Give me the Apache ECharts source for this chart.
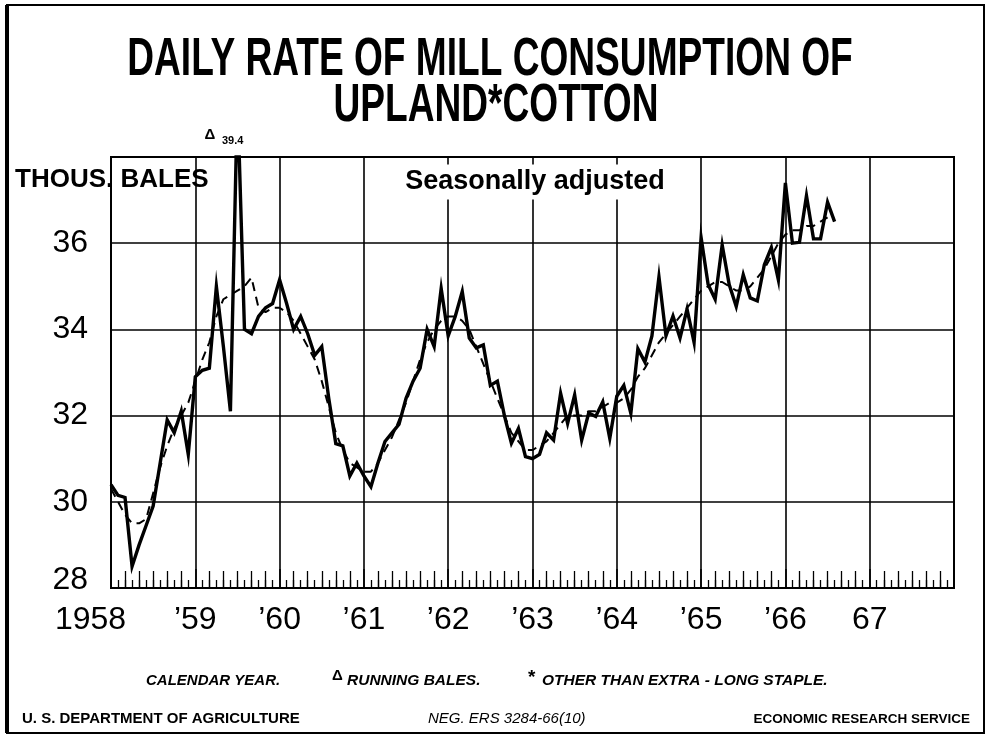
<!DOCTYPE html>
<html>
<head>
<meta charset="utf-8">
<script src="https://cdn.jsdelivr.net/npm/echarts@6/dist/echarts.min.js"></script>
<style>
  html, body { margin: 0; padding: 0; background: #fff; }
  #myChart { width: 987px; height: 736px; }
</style>
</head>
<body>
<div id="myChart"></div>
<script>
// year labels for the x axis (one per January, months counted from Jan 1958)
const yearLabels = ['1958', '\u201959', '\u201960', '\u201961', '\u201962', '\u201963', '\u201964', '\u201965', '\u201966', '67', ''];
const yTicks = [28, 30, 32, 34, 36, 38];

// daily rate, thous. bales, monthly Jan 1958 - Aug 1966 (solid line)
const monthly = [
  30.4, 30.15, 30.1, 28.5, 29.0, 29.45, 29.9, 30.9, 31.9, 31.6, 32.1, 31.1,
  32.9, 33.05, 33.1, 35.0, 33.6, 32.1, 39.4, 34.0, 33.9, 34.3, 34.5, 34.6,
  35.15, 34.6, 34.0, 34.3, 33.9, 33.4, 33.6, 32.4, 31.35, 31.3, 30.6, 30.9,
  30.6, 30.35, 30.9, 31.4, 31.6, 31.8, 32.4, 32.8, 33.1, 34.0, 33.6, 34.95,
  33.85, 34.3, 34.88, 33.8, 33.57, 33.64, 32.7, 32.8, 32.0, 31.36, 31.7, 31.05,
  31.0, 31.1, 31.6, 31.43, 32.52, 31.82, 32.48, 31.43, 32.06, 31.98, 32.32, 31.47,
  32.45, 32.7, 32.05, 33.55, 33.24, 33.85, 35.22, 33.85, 34.31, 33.8, 34.47, 33.7,
  36.13, 35.04, 34.7, 35.96, 35.04, 34.53, 35.27, 34.73, 34.66, 35.5, 35.9, 35.15,
  37.4, 36.0, 36.02, 37.1, 36.1, 36.1, 36.95, 36.5
];

// smoothed trend (dashed line)
const smoothed = [
  30.3, 30.0, 29.7, 29.5, 29.5, 29.6, 30.2, 30.8, 31.3, 31.7, 32.0, 32.3,
  32.8, 33.3, 33.7, 34.3, 34.7, 34.8, 34.9, 35.0, 35.2, 34.5, 34.4, 34.5,
  34.5, 34.4, 34.2, 33.9, 33.6, 33.3, 32.8, 32.2, 31.6, 31.2, 30.9, 30.8,
  30.7, 30.7, 30.9, 31.2, 31.5, 31.9, 32.3, 32.8, 33.3, 33.7, 34.0, 34.2,
  34.3, 34.3, 34.2, 34.0, 33.6, 33.2, 32.8, 32.4, 32.0, 31.6, 31.4, 31.2,
  31.2, 31.3, 31.4, 31.6, 31.8, 32.0, 32.0, 32.0, 32.1, 32.1, 32.2, 32.3,
  32.3, 32.4, 32.6, 32.9, 33.1, 33.4, 33.7, 33.9, 34.1, 34.3, 34.5, 34.7,
  34.9, 35.0, 35.1, 35.1, 35.0, 34.9, 34.9, 35.0, 35.2, 35.4, 35.7, 36.0,
  36.2, 36.3, 36.3, 36.4, 36.4, 36.5, 36.6
];

const FONT = 'Liberation Sans';

let myChart = echarts.init(document.getElementById('myChart'));

// helper for text elements of the graphic layer
function txt(x, y, text, font, align, extra) {
  return {
    type: 'text', z: 100, x: x, y: y,
    style: Object.assign({
      text: text, fill: '#000', font: font,
      align: align, verticalAlign: 'middle',
      textAlign: align, textVerticalAlign: 'middle'
    }, extra || {})
  };
}

let option = {
  backgroundColor: '#fff',
  animation: false,
  grid: [
    { left: 111, right: 33, top: 157, bottom: 148, show: true, borderColor: '#000', borderWidth: 2 },
    // thin strip on the baseline, only used for the month ticks that point up
    { left: 111, right: 33, top: 588, height: 1 }
  ],
  xAxis: [
    {
      type: 'value', min: 0, max: 120, interval: 12,
      axisLine: { show: true, lineStyle: { color: '#000', width: 2 } },
      axisTick: { show: false },
      splitLine: { show: true, lineStyle: { color: '#000', width: 1.6 } },
      axisLabel: {
        margin: 16,
        color: '#000',
        fontFamily: FONT,
        fontSize: 32,
        showMinLabel: true,
        formatter: function (v) {
          let k = Math.round(v / 12);
          if (k === 0) return '{y|' + yearLabels[0] + '}{s|}';
          return yearLabels[k];
        },
        rich: {
          y: { fontFamily: FONT, fontSize: 32, color: '#000' },
          s: { width: 41 }
        }
      }
    },
    {
      // short ticks every month
      gridIndex: 1, type: 'value', min: 0, max: 120, interval: 12, position: 'top',
      axisLine: { show: false },
      axisTick: { show: true, length: 20, lineStyle: { color: '#000', width: 1.5 } },
      minorTick: { show: true, splitNumber: 12, length: 9, lineStyle: { color: '#000', width: 1.3 } },
      splitLine: { show: false },
      axisLabel: { show: false }
    },
    {
      // longer ticks every second month
      gridIndex: 1, type: 'value', min: 0, max: 120, interval: 12, position: 'top',
      axisLine: { show: false },
      axisTick: { show: false },
      minorTick: { show: true, splitNumber: 6, length: 17, lineStyle: { color: '#000', width: 1.3 } },
      splitLine: { show: false },
      axisLabel: { show: false }
    }
  ],
  yAxis: [
    {
      type: 'value', min: yTicks[0], max: yTicks[yTicks.length - 1], interval: 2,
      axisLine: { show: true, lineStyle: { color: '#000', width: 2 } },
      axisTick: { show: false },
      splitLine: { show: true, lineStyle: { color: '#000', width: 1.6 } },
      axisLabel: {
        margin: 23,
        color: '#000',
        fontFamily: FONT,
        fontSize: 32,
        formatter: function (v) {
          if (v === 38) return '';
          if (v === 28) return '{m|28}';
          return String(v);
        },
        rich: {
          m: { fontFamily: FONT, fontSize: 32, color: '#000', padding: [0, 0, 16, 0] }
        }
      }
    },
    { gridIndex: 1, type: 'value', show: false, min: 0, max: 1 }
  ],
  series: [
    {
      name: 'smoothed',
      type: 'line',
      data: smoothed.map((v, i) => [i, v]),
      showSymbol: false,
      clip: true,
      lineStyle: { color: '#000', width: 2, type: [9, 6] },
      z: 3
    },
    {
      name: 'monthly',
      type: 'line',
      data: monthly.map((v, i) => [i, v]),
      showSymbol: false,
      clip: true,
      lineStyle: { color: '#000', width: 3.4, join: 'miter' },
      z: 4
    }
  ],
  graphic: [
    // page frame
    { type: 'rect', z: 1, shape: { x: 7, y: 5, width: 977, height: 728 },
      style: { fill: 'none', stroke: '#000', lineWidth: 2 } },
    { type: 'line', z: 1, shape: { x1: 7, y1: 5, x2: 7, y2: 733 },
      style: { stroke: '#000', lineWidth: 4 } },
    // title
    Object.assign(txt(490, 60, 'DAILY RATE OF MILL CONSUMPTION OF', 'bold 53px "Liberation Sans"', 'center'), { scaleX: 0.7 }),
    Object.assign(txt(496, 106, 'UPLAND*COTTON', 'bold 53px "Liberation Sans"', 'center'), { scaleX: 0.7 }),
    // spike note
    txt(210, 135, '\u0394', 'bold 15px "Liberation Sans"', 'center'),
    txt(222, 141, '39.4', 'bold 11px "Liberation Sans"', 'left'),
    // unit and note
    txt(15, 180, 'THOUS. BALES', 'bold 26px "Liberation Sans"', 'left'),
    txt(535, 182, 'Seasonally adjusted', 'bold 27px "Liberation Sans"', 'center',
      { backgroundColor: '#fff', padding: [4, 6] }),
    // footnotes
    txt(146, 681, 'CALENDAR YEAR.', 'italic bold 15px "Liberation Sans"', 'left'),
    txt(332, 676, '\u0394', 'bold 15px "Liberation Sans"', 'left'),
    txt(347, 681, 'RUNNING BALES.', 'italic bold 15.5px "Liberation Sans"', 'left'),
    txt(528, 678, '*', 'bold 19px "Liberation Sans"', 'left'),
    txt(542, 681, 'OTHER THAN EXTRA - LONG STAPLE.', 'italic bold 15.5px "Liberation Sans"', 'left'),
    // footer
    txt(22, 719, 'U. S. DEPARTMENT OF AGRICULTURE', 'bold 15px "Liberation Sans"', 'left'),
    txt(428, 719, 'NEG. ERS 3284-66(10)', 'italic 15px "Liberation Sans"', 'left'),
    txt(970, 719, 'ECONOMIC RESEARCH SERVICE', 'bold 13.5px "Liberation Sans"', 'right')
  ]
};

myChart.setOption(option);
</script>
</body>
</html>
